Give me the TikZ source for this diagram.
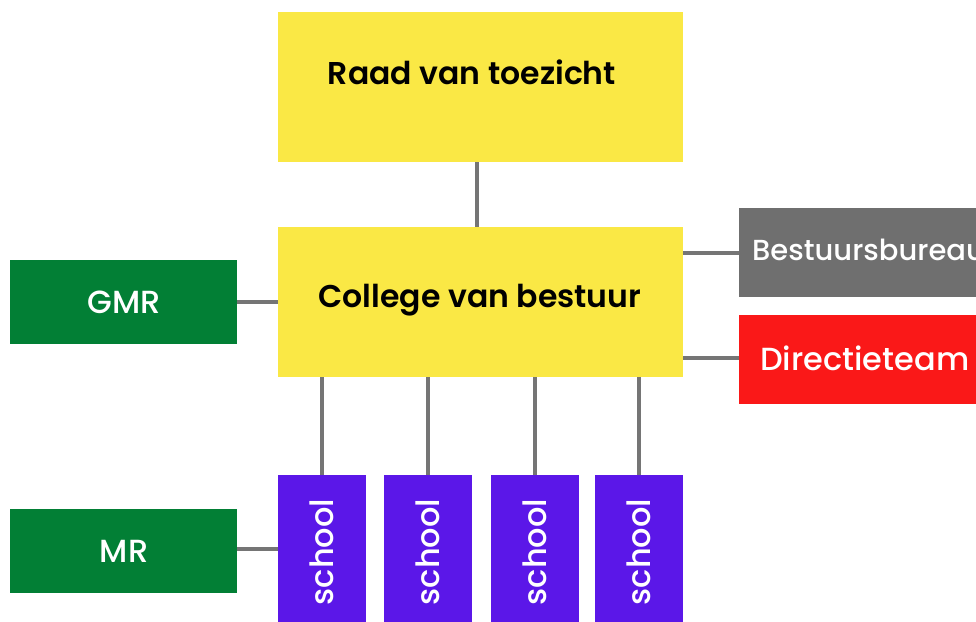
\documentclass[tikz,border=0pt]{standalone}
\usepackage{fontspec}
\setmainfont{Poppins}
\newfontfamily\fmed{Poppins Medium}
\newfontfamily\fsemi{Poppins SemiBold}
\definecolor{cyel}{HTML}{FAE845}
\definecolor{cgrn}{HTML}{027F35}
\definecolor{cgry}{HTML}{6F6F6F}
\definecolor{cred}{HTML}{FA1818}
\definecolor{cpur}{HTML}{5B17E8}
\definecolor{cline}{HTML}{757575}
\begin{document}
\begin{tikzpicture}[x=1pt,y=-1pt,
  lbl/.style={inner sep=0pt,font=\fontsize{32}{36}\fmed},
  hd/.style={inner sep=0pt,font=\fontsize{31.5}{36}\fsemi},
  conn/.style={draw=cline,line width=4.5pt}]
\useasboundingbox (0,0) rectangle (976,621);
\clip (0,0) rectangle (976,621);
% boxes
\fill[cyel] (278,12) rectangle (683,162);
\node[hd] (raad) at (472,72) {Raad van toezicht};
\coordinate (raadB) at (477,162);
\fill[cyel] (278,227) rectangle (683,377);
\node[hd] (cvb) at (480,300) {College van bestuur};
\coordinate (cvbT) at (477,227);
\fill[cgrn] (10,260) rectangle (237,344);
\node[lbl,white] (gmr) at (124,302) {GMR};
\fill[cgrn] (10,509) rectangle (237,593);
\node[lbl,white] (mr) at (124,551) {MR};
\fill[cgry] (739,208) rectangle (1010,297);
\node[lbl,white,anchor=west,font=\fontsize{29}{34}\fmed] (bb) at (752,250) {Bestuursbureau};
\fill[cred] (739,315) rectangle (1000,404);
\node[lbl,white,anchor=west] (dt) at (760,358) {Directieteam};
\foreach \i/\x in {1/278,2/384,3/491,4/595}{
  \fill[cpur] (\x,475) rectangle ++(88,160);
  \node[lbl,white,rotate=90] (s\i) at (\x+44,552) {school};
  \coordinate (sT\i) at (\x+44,475);
  \coordinate (cB\i) at (\x+44,377);
}
% connectors
\draw[conn] (raadB) -- (cvbT);
\draw[conn] (237,302) coordinate (gmrR) -- (278,302) coordinate (cvbL);
\draw[conn] (237,549) coordinate (mrR) -- (278,549) coordinate (s1L);
\draw[conn] (683,253) coordinate (cvbR1) -- (739,253) coordinate (bbL);
\draw[conn] (683,358) coordinate (cvbR2) -- (739,358) coordinate (dtL);
\foreach \i in {1,...,4}{\draw[conn] (cB\i) -- (sT\i);}
\end{tikzpicture}
\end{document}
